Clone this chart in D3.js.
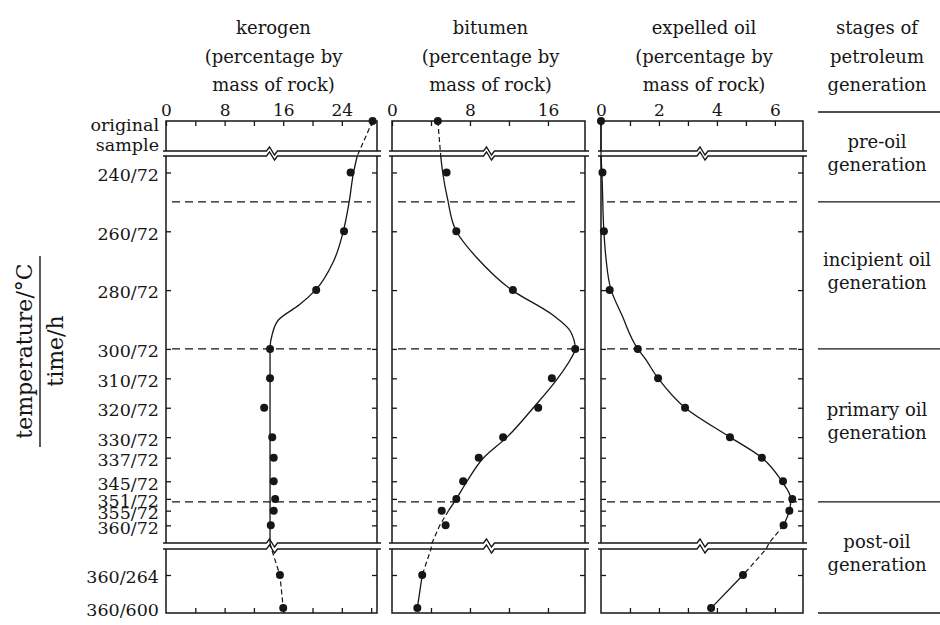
<!DOCTYPE html>
<html>
<head>
<meta charset="utf-8">
<script src="https://cdn.jsdelivr.net/npm/d3@7"></script>
<style>
  body { margin: 0; background: #fff; }
  svg { display: block; }
</style>
</head>
<body>
<svg id="chart" width="940" height="625"></svg>
<script>
// ---- data ----
const tempLabels = ["240/72","260/72","280/72","300/72","310/72","320/72","330/72","337/72","345/72","351/72","355/72","360/72"];
const temps = [240,260,280,300,310,320,330,337,345,351,355,360];
const longLabels = ["360/264","360/600"];
const longTimes = [264,600];
const stageBreaks = [250,300,352];
const stageNames = [["pre-oil","generation"],["incipient oil","generation"],["primary oil","generation"],["post-oil","generation"]];

// measured points (% by mass of rock)
const kerogenOriginal = 28.2;
const kerogenValues = [25.2,24.3,20.5,14.2,14.2,13.4,14.5,14.7,14.7,14.9,14.7,14.3];
const kerogenLong = [15.55,16.0];
const bitumenOriginal = 4.7;
const bitumenValues = [5.6,6.6,12.4,18.8,16.4,15.0,11.4,8.9,7.3,6.6,5.1,5.5];
const bitumenLong = [3.1,2.6];
const oilOriginal = 0;
const oilValues = [0.05,0.1,0.3,1.27,1.97,2.9,4.45,5.55,6.28,6.6,6.5,6.3];
const oilLong = [4.9,3.8];

// hand-drawn fitted curves: [temperature, %] and [hours at 360 °C, %]
const kerogenCurve = [[234.4,26.1],[240,25.6],[250,25.0],[260,24.2],[270,22.9],[280,20.4],[285,18.2],[290,15.4],[295,14.5],[300,14.2],[366,14.2]];
const kerogenTail = [[0,14.4],[264,15.55],[600,16.0]];
const bitumenCurve = [[234.4,5.0],[240,5.2],[249,5.7],[260,6.6],[269,8.7],[280,12.3],[288.5,16.5],[294,18.3],[300,18.8],[303,18.4],[310,17.0],[320,14.5],[330,11.8],[337,9.4],[345,7.7],[351,6.6],[355,5.8]];
const bitumenBridge = [[355,5.8],[360,4.9],[366,4.1]];
const bitumenTailDash = [[0,4.0],[264,3.1]];
const bitumenTail = [[264,3.1],[600,2.6]];
const oilCurve = [[234.4,0],[240,0.03],[260,0.1],[269,0.17],[280,0.35],[288.5,0.72],[300,1.27],[303,1.5],[310,1.97],[320,2.9],[330,4.45],[337,5.55],[345,6.24],[351,6.55],[355,6.5],[360,6.3]];
const oilBridge = [[360,6.3],[366,5.8]];
const oilTailDash = [[0,5.7],[264,4.9]];
const oilTail = [[264,4.9],[600,3.8]];

// ---- layout ----
const ink = "#161616";
const serif = "'DejaVu Serif', serif";
const frameTop = 121, topEnd = 151, mainTop = 156, mainEnd = 543, longTop = 549, frameBottom = 613;

const svg = d3.select("#chart");
svg.append("rect").attr("width", 940).attr("height", 625).attr("fill", "#fff");

const yMain = d3.scaleLinear().domain([234.4, 366]).range([mainTop, mainEnd]);
const yLong = d3.scaleLinear().domain([0, 650]).range([longTop, frameBottom]);

const panels = [
  {x0:166, x1:377, max:28.8, step:4, labels:[0,8,16,24], original:kerogenOriginal, values:kerogenValues, long:kerogenLong,
   title:["kerogen","(percentage by","mass of rock)"],
   topDash:true, curve:kerogenCurve, bridge:[kerogenCurve[kerogenCurve.length-1]], tailDash:kerogenTail, tail:[]},
  {x0:392, x1:585, max:19.8, step:4, labels:[0,8,16], original:bitumenOriginal, values:bitumenValues, long:bitumenLong,
   title:["bitumen","(percentage by","mass of rock)"],
   topDash:true, curve:bitumenCurve, bridge:bitumenBridge, tailDash:bitumenTailDash, tail:bitumenTail},
  {x0:601, x1:803, max:6.97, step:1, labels:[0,2,4,6], original:oilOriginal, values:oilValues, long:oilLong,
   title:["expelled oil","(percentage by","mass of rock)"],
   topDash:false, curve:oilCurve, bridge:oilBridge, tailDash:oilTailDash, tail:oilTail}
];

const titleRows = [34, 63, 91];

function zig(y, xa, xb, xm) {
  return `M${xa},${y}H${xm-5}L${xm-2},${y-4}L${xm+3},${y+4}L${xm+6},${y}H${xb}`;
}

function styleAxis(g, size) {
  g.select(".domain").remove();
  g.attr("font-family", serif).attr("font-size", size).attr("color", ink);
  g.selectAll("line").attr("stroke-width", 1.3);
}

panels.forEach((p, pi) => {
  const x = d3.scaleLinear().domain([0, p.max]).range([p.x0, p.x1]);
  const g = svg.append("g");
  const L = x(0), R = x(p.max);

  // header
  p.title.forEach((t, i) => {
    g.append("text").attr("x", (L + R) / 2 + 2).attr("y", titleRows[i])
      .attr("text-anchor", "middle").attr("font-family", serif).attr("font-size", 18)
      .attr("fill", ink).text(t);
  });

  // top axis
  g.append("g").attr("transform", `translate(0,${frameTop})`)
    .call(d3.axisTop(x).tickValues(d3.range(0, p.max, p.step)).tickSize(-5).tickPadding(5)
      .tickFormat(d => p.labels.includes(d) ? d : ""))
    .call(a => styleAxis(a, 17));

  // bottom axis
  g.append("g").attr("transform", `translate(0,${frameBottom})`)
    .call(d3.axisBottom(x).tickValues(d3.range(p.step, p.max, p.step)).tickSize(-5).tickFormat(""))
    .call(a => styleAxis(a, 10));

  // inward y ticks on both edges
  [[d3.axisRight, L], [d3.axisLeft, R]].forEach(([ax, xp]) => {
    g.append("g").attr("transform", `translate(${xp},0)`)
      .call(ax(yMain).tickValues(temps).tickSize(5).tickFormat("")).call(a => styleAxis(a, 10));
    g.append("g").attr("transform", `translate(${xp},0)`)
      .call(ax(yLong).tickValues([longTimes[0]]).tickSize(5).tickFormat("")).call(a => styleAxis(a, 10));
  });

  // frame
  const frame = `M${L},${topEnd}V${frameTop}H${R}V${topEnd}` +
    `M${L},${mainTop}V${mainEnd}M${R},${mainTop}V${mainEnd}` +
    `M${L},${longTop}V${frameBottom}H${R}V${longTop}`;
  g.append("path").attr("d", frame).attr("fill", "none").attr("stroke", ink).attr("stroke-width", 1.5);

  // scale breaks
  const xm = (L + R) / 2;
  [topEnd, mainTop, mainEnd, longTop].forEach(y => {
    g.append("path").attr("d", zig(y, L - 3, R + 4, xm)).attr("fill", "none")
      .attr("stroke", ink).attr("stroke-width", 1.3);
  });

  // stage boundaries
  stageBreaks.forEach(t => {
    g.append("line").attr("x1", L + 6).attr("x2", R - 6).attr("y1", yMain(t)).attr("y2", yMain(t))
      .attr("stroke", ink).attr("stroke-width", 1.3).attr("stroke-dasharray", "8,5");
  });

  // curves
  const smooth = d3.line().x(d => x(d[1])).y(d => yMain(d[0])).curve(d3.curveMonotoneY);
  const straight = d3.line().x(d => d[0]).y(d => d[1]);
  const mainPx = d => [x(d[1]), yMain(d[0])];
  const longPx = d => [x(d[1]), yLong(d[0])];

  const link = [[x(p.original), frameTop], mainPx(p.curve[0])];
  g.append("path").attr("d", straight(link)).attr("fill", "none").attr("stroke", ink)
    .attr("stroke-width", 1.2).attr("stroke-dasharray", p.topDash ? "5,3" : null);

  g.append("path").attr("d", smooth(p.curve)).attr("fill", "none").attr("stroke", ink).attr("stroke-width", 1.3);

  const dashPts = p.bridge.map(mainPx).concat(p.tailDash.map(longPx));
  g.append("path").attr("d", straight(dashPts)).attr("fill", "none").attr("stroke", ink)
    .attr("stroke-width", 1.2).attr("stroke-dasharray", "5,3");

  if (p.tail.length) {
    g.append("path").attr("d", straight(p.tail.map(longPx))).attr("fill", "none")
      .attr("stroke", ink).attr("stroke-width", 1.3);
  }

  // points
  const pts = [[x(p.original), frameTop]]
    .concat(p.values.map((v, i) => [x(v), yMain(temps[i])]))
    .concat(p.long.map((v, i) => [x(v), yLong(longTimes[i])]));
  g.selectAll("circle").data(pts).join("circle")
    .attr("cx", d => d[0]).attr("cy", d => d[1]).attr("r", 4).attr("fill", ink);

  // row labels on the left of the first panel
  if (pi === 0) {
    g.append("g").attr("transform", `translate(${L},0)`)
      .call(d3.axisLeft(yMain).tickValues(temps).tickSize(0).tickPadding(7).tickFormat((d, i) => tempLabels[i]))
      .call(a => styleAxis(a, 17.5))
      .selectAll("text").attr("dy", "0.45em");
    g.append("g").attr("transform", `translate(${L},0)`)
      .call(d3.axisLeft(yLong).tickValues(longTimes).tickSize(0).tickPadding(7).tickFormat((d, i) => longLabels[i]))
      .call(a => styleAxis(a, 17.5))
      .selectAll("text").attr("dy", "0.42em");
    [["original", 131], ["sample", 151]].forEach(([t, y]) => {
      g.append("text").attr("x", L - 7).attr("y", y).attr("text-anchor", "end")
        .attr("font-family", serif).attr("font-size", 17.5).attr("fill", ink).text(t);
    });
  }
});

// axis title written as a fraction
svg.append("text").attr("transform", "translate(32,351) rotate(-90)").attr("text-anchor", "middle")
  .attr("font-family", serif).attr("font-size", 22).attr("fill", ink).text("temperature/°C");
svg.append("line").attr("x1", 40).attr("x2", 40).attr("y1", 256).attr("y2", 447)
  .attr("stroke", ink).attr("stroke-width", 1.4);
svg.append("text").attr("transform", "translate(63,351) rotate(-90)").attr("text-anchor", "middle")
  .attr("font-family", serif).attr("font-size", 22).attr("fill", ink).text("time/h");

// stages column
const stageX = 877;
const stageLines = [112].concat(stageBreaks.map(t => yMain(t)), [frameBottom]);
["stages of", "petroleum", "generation"].forEach((t, i) => {
  svg.append("text").attr("x", stageX).attr("y", titleRows[i]).attr("text-anchor", "middle")
    .attr("font-family", serif).attr("font-size", 18).attr("fill", ink).text(t);
});
stageLines.forEach(y => {
  svg.append("line").attr("x1", 818).attr("x2", 940).attr("y1", y).attr("y2", y)
    .attr("stroke", ink).attr("stroke-width", 1.3);
});
stageNames.forEach((rows, i) => {
  const c = (stageLines[i] + stageLines[i + 1]) / 2 - 2;
  rows.forEach((t, j) => {
    svg.append("text").attr("x", stageX).attr("y", c - 7 + j * 23).attr("text-anchor", "middle")
      .attr("font-family", serif).attr("font-size", 18).attr("fill", ink).text(t);
  });
});
</script>
</body>
</html>
